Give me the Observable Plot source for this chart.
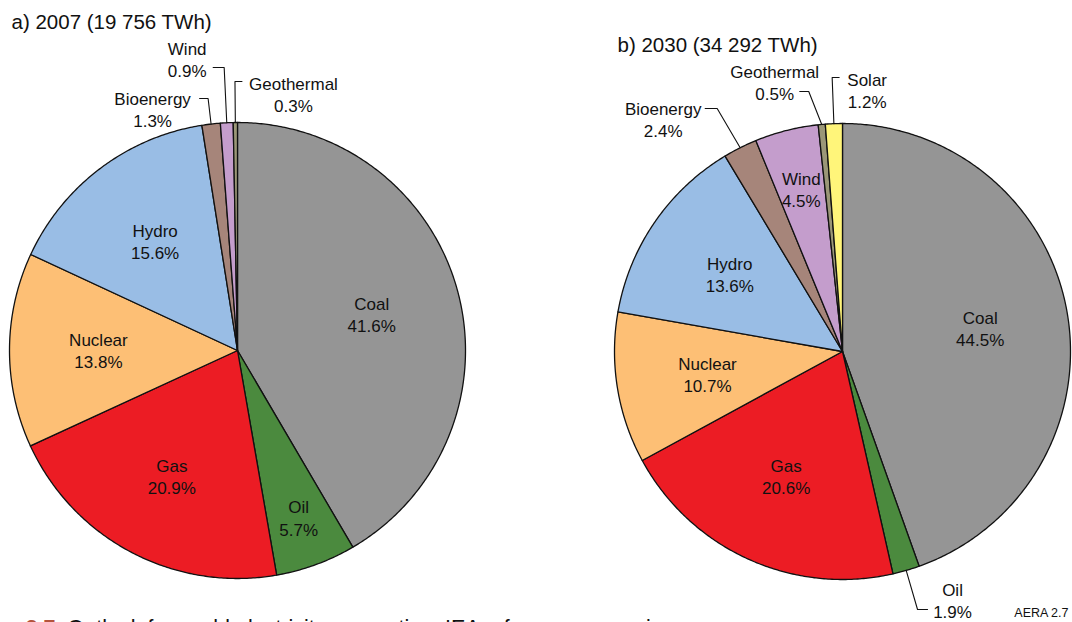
<!DOCTYPE html>
<html><head><meta charset="utf-8">
<script src="https://cdn.jsdelivr.net/npm/d3@7"></script>
<script src="https://cdn.jsdelivr.net/npm/@observablehq/plot@0.6"></script>
<style>
body{margin:0;background:#fff;}
#chart svg{display:block;}
</style>
</head><body><div id="chart"></div>
<script>
// ---- data ----
const titles = ["a) 2007 (19 756 TWh)", "b) 2030 (34 292 TWh)"];
const sources2007 = ["Coal","Oil","Gas","Nuclear","Hydro","Bioenergy","Wind","Geothermal"];
const shares2007  = [41.6, 5.7, 20.9, 13.8, 15.6, 1.3, 0.9, 0.3];
const sources2030 = ["Coal","Oil","Gas","Nuclear","Hydro","Bioenergy","Wind","Geothermal","Solar"];
const shares2030  = [44.5, 1.9, 20.6, 10.7, 13.6, 2.4, 4.5, 0.5, 1.2];
const allSources  = ["Coal","Oil","Gas","Nuclear","Hydro","Bioenergy","Wind","Geothermal","Solar"];
const sourceColors = ["#959595","#4b8a3e","#ec1c24","#fdbf75","#99bde5","#a6857a","#c49dcc","#9b9777","#fff57a"];
const captionNumber = "2.7";
const captionText = "Outlook for world electricity generation, IEA reference scenario";
const credit = "AERA 2.7";

// ---- layout ----
const W = 1072, H = 622;
const FONT = "'Liberation Sans', Arial, Helvetica, sans-serif";
const layout = [
  {cx: 237, cy: 350, r: 228, tx: 11, ty: 22},
  {cx: 842, cy: 351, r: 228, tx: 617, ty: 45}
];
// inside labels: k = radius fraction; outside: leader elbow y (ly), horizontal run (hx), text offset
const labelCfg = [
  {
    Coal: {k: 0.61}, Oil: {k: 0.78}, Gas: {k: 0.62}, Nuclear: {k: 0.61}, Hydro: {k: 0.6},
    Bioenergy: {ly: 98, hx: -8.5, tdx: -47, tdy: 10},
    Wind: {ly: 67, hx: -11, tdx: -26, tdy: -9},
    Geothermal: {ly: 81, hx: 7, tdx: 51.5, tdy: 12}
  },
  {
    Coal: {k: 0.613}, Gas: {k: 0.6}, Nuclear: {k: 0.6}, Hydro: {k: 0.6}, Wind: {k: 0.735},
    Oil: {ly: 609, hx: 10, tdx: 25, tdy: -9.5},
    Bioenergy: {ly: 108, hx: -12, edx: -23, tdx: -42, tdy: 10},
    Geothermal: {ly: 91, hx: -9, edx: -13, tdx: -25, tdy: -9.5},
    Solar: {ly: 77, hx: 7, tdx: 28, tdy: 12.5}
  }
];

const pies = [
  {sources: sources2007, shares: shares2007},
  {sources: sources2030, shares: shares2030}
];

const slicePts = [], labels = [], leaders = [];
pies.forEach((p, i) => {
  const L = layout[i];
  const arcs = d3.pie().sort(null).value(d => d)(p.shares);
  const px = (ang, rr = L.r) => L.cx + rr * Math.sin(ang);
  const py = (ang, rr = L.r) => L.cy - rr * Math.cos(ang);
  arcs.forEach((a, j) => {
    const src = p.sources[j], key = i + "-" + src;
    slicePts.push({key, src, x: L.cx, y: L.cy});
    const n = Math.max(2, Math.ceil((a.endAngle - a.startAngle) / (Math.PI / 360)));
    for (let s = 0; s <= n; s++) {
      const t = a.startAngle + (a.endAngle - a.startAngle) * s / n;
      slicePts.push({key, src, x: px(t), y: py(t)});
    }
    const mid = (a.startAngle + a.endAngle) / 2;
    const text = src + "\n" + p.shares[j].toFixed(1) + "%";
    const cfg = labelCfg[i][src];
    if (cfg.k != null) {
      labels.push({x: px(mid, cfg.k * L.r), y: py(mid, cfg.k * L.r), text});
    } else {
      const ax = px(mid), ay = py(mid);
      const d = (cfg.ly - L.cy) / (-Math.cos(mid));
      const ex = cfg.edx != null ? ax + cfg.edx : L.cx + d * Math.sin(mid);
      const hend = ex + cfg.hx;
      leaders.push({key, x: ax, y: ay}, {key, x: ex, y: cfg.ly}, {key, x: hend, y: cfg.ly});
      labels.push({x: hend + cfg.tdx, y: cfg.ly + cfg.tdy, text});
    }
  });
});

const chart = Plot.plot({
  width: W, height: H, margin: 0,
  x: {type: "identity", axis: null}, y: {type: "identity", axis: null},
  color: {domain: allSources, range: sourceColors},
  style: {fontFamily: FONT, background: "#fff"},
  marks: [
    Plot.line(slicePts, {x: "x", y: "y", z: "key", fill: "src", stroke: "#111", strokeWidth: 1.3, curve: "linear-closed", strokeLinejoin: "round"}),
    Plot.line(leaders, {x: "x", y: "y", z: "key", stroke: "#111", strokeWidth: 1.1}),
    Plot.text(labels, {x: "x", y: "y", text: "text", fontSize: 17, lineHeight: 1.3, fill: "#111", fontFamily: FONT}),
    Plot.text(titles, {x: (d, i) => layout[i].tx, y: (d, i) => layout[i].ty, text: d => d, textAnchor: "start", fontSize: 20.5, fill: "#111", fontFamily: FONT}),
    Plot.text([credit], {x: W - 4, y: 612, text: d => d, textAnchor: "end", fontSize: 12.5, fill: "#111", fontFamily: FONT}),
    Plot.text([captionNumber], {x: 25, y: 628, text: d => d, textAnchor: "start", fontSize: 21.5, fontWeight: "bold", fill: "#b5533c", fontFamily: FONT}),
    Plot.text([captionText], {x: 67, y: 628, text: d => d, textAnchor: "start", fontSize: 21.5, fill: "#111", fontFamily: FONT})
  ]
});
document.getElementById("chart").appendChild(chart);
</script>
</body></html>
